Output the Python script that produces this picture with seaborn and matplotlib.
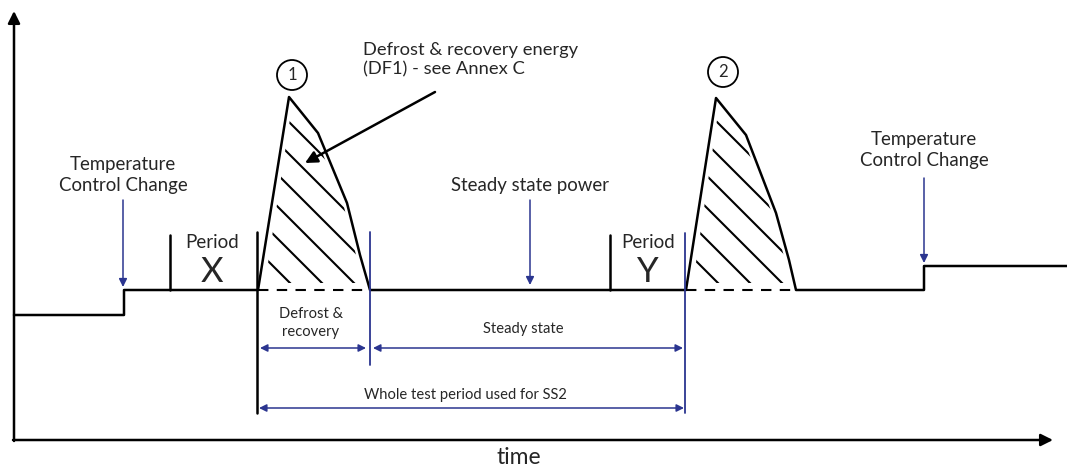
import numpy as np
import pandas as pd
import matplotlib.pyplot as plt
import seaborn as sns
from matplotlib.patches import Polygon, Circle

# --- trace data (time, power) in drawing units ---
base_t = [14, 124, 124, 258]
base_p = [153, 153, 178, 178]
peak1_t = [258, 289, 318, 347, 360, 370]
peak1_p = [178, 371, 335, 265, 213, 178]
mid_t = [686]
mid_p = [178]
peak2_t = [686, 716, 746, 776, 789, 796]
peak2_p = [178, 370, 333, 255, 208, 178]
end_t = [924, 924, 1067]
end_p = [178, 202, 202]

period_ticks = [170, 610]
period_labels = ["X", "Y"]
period_label_x = [212, 648]

blue = "#2b3590"

sns.set_theme(style="white")
plt.rcParams["font.family"] = ["Lato", "DejaVu Sans"]

df = pd.DataFrame({
    "time": base_t + peak1_t[1:] + mid_t + peak2_t[1:] + end_t,
    "power": base_p + peak1_p[1:] + mid_p + peak2_p[1:] + end_p,
})

fig = plt.figure(figsize=(10.67, 4.68), dpi=100)
ax = fig.add_axes([0, 0, 1, 1])
ax.set_xlim(0, 1067)
ax.set_ylim(0, 468)
ax.axis("off")

sns.lineplot(data=df, x="time", y="power", estimator=None, sort=False,
             color="black", lw=1.8, ax=ax, legend=False)

# axes arrows
arrow_k = dict(arrowstyle="-|>", color="black", lw=1.8, mutation_scale=18,
               shrinkA=0, shrinkB=0)
ax.annotate("", xy=(14, 457), xytext=(14, 27), arrowprops=arrow_k)
ax.annotate("", xy=(1053, 28), xytext=(13, 28), arrowprops=arrow_k)
ax.text(519, 10, "time", ha="center", va="center", fontsize=16.5)

# peaks: dashed base + hatching
for i, (pt, pp) in enumerate([(peak1_t, peak1_p), (peak2_t, peak2_p)]):
    ax.plot([pt[0], pt[-1]], [pp[0], pp[-1]], color="black", lw=1.5,
            ls=(0, (5, 4)))
    # inset outline so hatch lines stop short of the edges
    inner = [(pt[0] + 7, pp[0] + 7), (pt[1] + 1, pp[1] - 22)]
    inner += [(t - 4, p) for t, p in zip(pt[2:-1], pp[2:-1])]
    inner += [(pt[-1] - 5, pp[-1] + 7)]
    clip = Polygon(inner, closed=True, fill=False, edgecolor="none")
    ax.add_patch(clip)
    k0 = pt[0] + 377
    for k in np.arange(k0, k0 - 32 * 8, -32):
        xs = np.array([pt[0] - 20, pt[-1] + 20])
        ln, = ax.plot(xs, k - xs, color="black", lw=1.5)
        ln.set_clip_path(clip)
    # circled number
    cx = pt[1] + (3 if i == 0 else 7)
    cy = 393 if i == 0 else 396
    ax.add_patch(Circle((cx, cy), 15, fill=False, lw=1.3, color="black"))
    ax.text(cx, cy, str(i + 1), ha="center", va="center", fontsize=12)

# period markers
for xt, lab, xl in zip(period_ticks, period_labels, period_label_x):
    ax.plot([xt, xt], [178, 233], color="black", lw=1.8)
    ax.text(xl, 226, "Period", ha="center", va="center", fontsize=13.5)
    ax.text(xl, 196, lab, ha="center", va="center", fontsize=25)

# vertical boundaries
ax.plot([257, 257], [55, 236], color="black", lw=1.8)
ax.plot([370, 370], [103, 236], color=blue, lw=1.3)
ax.plot([685, 685], [55, 235], color=blue, lw=1.3)

# blue pointer arrows
arrow_b = dict(arrowstyle="-|>", color=blue, lw=1.1, mutation_scale=12,
               shrinkA=0, shrinkB=0)
ax.annotate("", xy=(123, 181), xytext=(123, 268), arrowprops=arrow_b)
ax.annotate("", xy=(924, 205), xytext=(924, 290), arrowprops=arrow_b)
ax.annotate("", xy=(530, 183), xytext=(530, 268), arrowprops=arrow_b)

ax.text(123, 293, "Temperature\nControl Change", ha="center", va="center",
        fontsize=13.4, linespacing=1.25)
ax.text(924, 318, "Temperature\nControl Change", ha="center", va="center",
        fontsize=13.4, linespacing=1.25)
ax.text(530, 283, "Steady state power", ha="center", va="center",
        fontsize=13.4)

# annotation for DF1
ax.text(363, 408, "Defrost & recovery energy\n(DF1) - see Annex C",
        ha="left", va="center", fontsize=13.2, linespacing=1.25)
ax.annotate("", xy=(305, 305), xytext=(435, 376),
            arrowprops=dict(arrowstyle="-|>", color="black", lw=1.8,
                            mutation_scale=18, shrinkA=0, shrinkB=0))

# span arrows
arrow_d = dict(arrowstyle="<|-|>", color=blue, lw=1.1, mutation_scale=11,
               shrinkA=0, shrinkB=0)
ax.annotate("", xy=(366, 120), xytext=(260, 120), arrowprops=arrow_d)
ax.annotate("", xy=(683, 120), xytext=(373, 120), arrowprops=arrow_d)
ax.annotate("", xy=(684, 60), xytext=(259, 60), arrowprops=arrow_d)

ax.text(311, 145, "Defrost &\nrecovery", ha="center", va="center",
        fontsize=10.6, linespacing=1.45)
ax.text(523, 139, "Steady state", ha="center", va="center", fontsize=10.6)
ax.text(465, 73, "Whole test period used for SS2", ha="center",
        va="center", fontsize=10.6)

fig.savefig("out.png", dpi=100)
